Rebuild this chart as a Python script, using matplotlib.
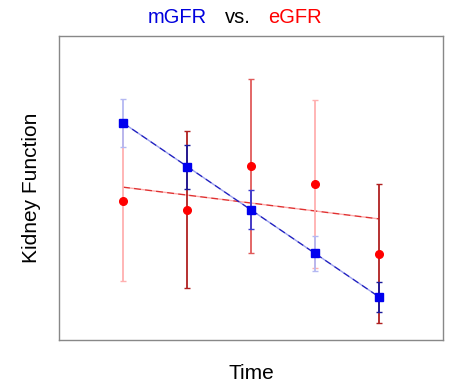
import numpy as np
import matplotlib
matplotlib.use("Agg")
import matplotlib.pyplot as plt

# data (arbitrary kidney-function units)
time_points = [1, 2, 3, 4, 5]
mgfr = [7.15, 5.70, 4.28, 2.85, 1.42]
mgfr_err = [0.79, 0.72, 0.64, 0.58, 0.50]
egfr = [4.57, 4.28, 5.71, 5.13, 2.84]
egfr_err = [2.63, 2.58, 2.86, 2.75, 2.29]

# per-point error bar shades, as in the original
egfr_bar_colors = ['#ffb0b0', '#b02020', '#e05a5a', '#ffb0b0', '#b02020']
mgfr_bar_colors = ['#b4b8f2', '#1a1a9a', '#3a3ad0', '#b4b8f2', '#1a1a9a']

plt.rcParams['font.family'] = ['Liberation Sans', 'DejaVu Sans']

fig = plt.figure(figsize=(4.57, 3.88), dpi=100)
ax = fig.add_axes([0.1291, 0.1237, 0.8403, 0.7835])

x = np.array(time_points)

# regression lines
for vals, c1, c2 in [(egfr, '#e03030', '#ffaaaa'), (mgfr, '#2020c0', '#9aa0ee')]:
    k, b = np.polyfit(x, vals, 1)
    ax.plot([x[0], x[-1]], [k * x[0] + b, k * x[-1] + b], color=c1,
            gapcolor=c2, lw=1.0, ls=(0, (5, 3)), zorder=2)

# eGFR error bars + points
for i in range(len(x)):
    ax.errorbar(x[i], egfr[i], yerr=egfr_err[i], fmt='none',
                ecolor=egfr_bar_colors[i], elinewidth=1.3, capsize=2.5, capthick=1.0, zorder=3)
ax.plot(x, egfr, 'o', color='#ff0000', ms=5.5, zorder=5)

# mGFR error bars + points
for i in range(len(x)):
    ax.errorbar(x[i], mgfr[i], yerr=mgfr_err[i], fmt='none',
                ecolor=mgfr_bar_colors[i], elinewidth=1.3, capsize=2.5, capthick=1.0, zorder=4)
ax.plot(x, mgfr, 's', color='#0000ee', ms=6, zorder=6)

ax.set_xlim(0, 6)
ax.set_ylim(0, 10)
ax.set_xticks([])
ax.set_yticks([])
for s in ax.spines.values():
    s.set_color('#888888')
    s.set_linewidth(1.0)

ax.set_xlabel('Time', fontsize=15, labelpad=17)
ax.set_ylabel('Kidney Function', fontsize=15, labelpad=13)

# two-colour title
fig.text(0.387, 0.955, 'mGFR', color='#0000dd', fontsize=14.5, ha='center', va='center')
fig.text(0.520, 0.955, 'vs.', color='black', fontsize=14.5, ha='center', va='center')
fig.text(0.645, 0.955, 'eGFR', color='#ff0000', fontsize=14.5, ha='center', va='center')

fig.savefig('out.png', dpi=100)
